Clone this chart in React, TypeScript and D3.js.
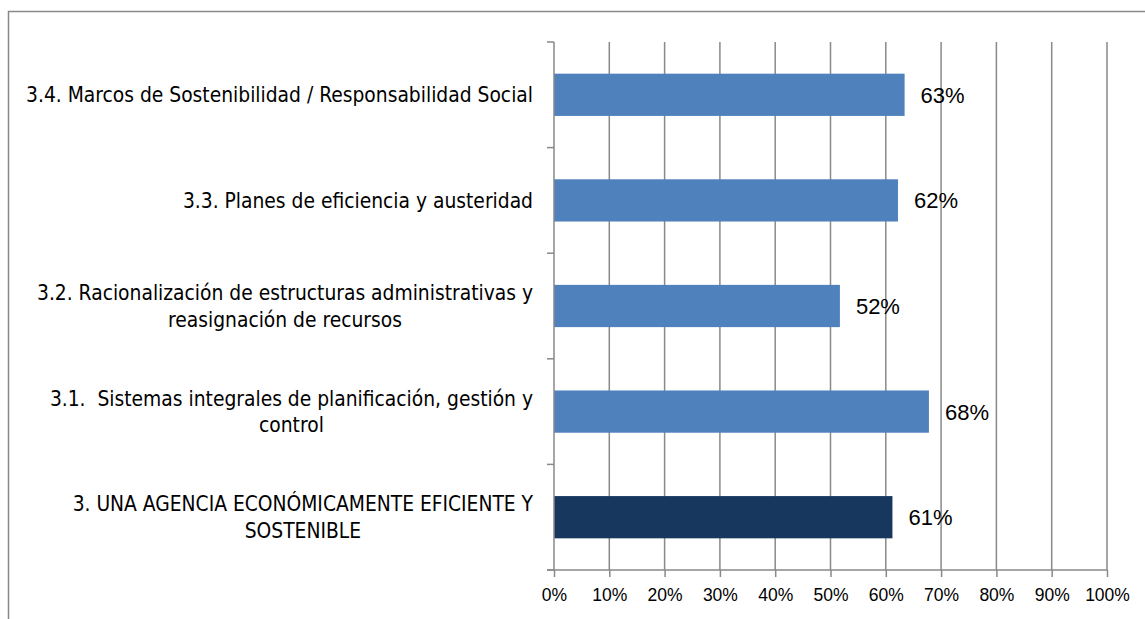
import React, { useEffect, useRef } from 'react';
import * as d3 from 'd3';

// categories top to bottom, each label split in lines
const categories = [
  ['3.4. Marcos de Sostenibilidad / Responsabilidad Social'],
  ['3.3. Planes de eficiencia y austeridad'],
  ['3.2. Racionalización de estructuras administrativas y', 'reasignación de recursos'],
  ['3.1.  Sistemas integrales de planificación, gestión y', 'control'],
  ['3. UNA AGENCIA ECONÓMICAMENTE EFICIENTE Y', 'SOSTENIBLE'],
];
const values = [0.634, 0.622, 0.517, 0.678, 0.612];
const barColors = ['#4F81BD', '#4F81BD', '#4F81BD', '#4F81BD', '#17375E'];
const xTicks = [0, 0.1, 0.2, 0.3, 0.4, 0.5, 0.6, 0.7, 0.8, 0.9, 1];

const W = 1145;
const H = 619;
const gridColor = '#898989';
const catFont = '"DejaVu Sans Condensed", "DejaVu Sans", sans-serif';
const numFont = '"Liberation Sans", Arial, sans-serif';

export default function App() {
  const ref = useRef<SVGSVGElement>(null);

  useEffect(() => {
    const svg = d3.select(ref.current);
    svg.selectAll('*').remove();

    const margin = { left: 554, right: 38, top: 42, bottom: 49 };
    const x = d3.scaleLinear().domain([0, 1]).range([margin.left, W - margin.right]);
    const idx = categories.map((_, i) => String(i));
    const y = d3.scaleBand().domain(idx).range([margin.top, H - margin.bottom])
      .paddingInner(0.6).paddingOuter(0.3);
    const band = d3.scaleBand().domain(idx).range([margin.top, H - margin.bottom]);

    // outer frame
    svg.append('rect')
      .attr('x', 8.5).attr('y', 11.5)
      .attr('width', W + 20).attr('height', H + 20)
      .attr('fill', 'none').attr('stroke', gridColor).attr('stroke-width', 1.5);

    // vertical gridlines
    svg.append('g').selectAll('line').data(xTicks.slice(1)).enter().append('line')
      .attr('x1', d => x(d)).attr('x2', d => x(d))
      .attr('y1', margin.top).attr('y2', H - margin.bottom)
      .attr('stroke', gridColor).attr('stroke-width', 1.5);

    // bars
    svg.append('g').selectAll('rect').data(values).enter().append('rect')
      .attr('x', x(0))
      .attr('y', (_, i) => y(String(i))!)
      .attr('width', d => x(d) - x(0))
      .attr('height', y.bandwidth())
      .attr('fill', (_, i) => barColors[i]);

    // value labels
    svg.append('g').selectAll('text').data(values).enter().append('text')
      .attr('x', d => x(d) + 16)
      .attr('y', (_, i) => y(String(i))! + y.bandwidth() / 2)
      .attr('dy', '0.36em')
      .attr('font-family', numFont).attr('font-size', 22)
      .attr('fill', '#000')
      .text(d => d3.format('.0%')(d));

    // y axis line + ticks at category boundaries
    const bounds = idx.map(k => band(k)!).concat([H - margin.bottom]);
    svg.append('line')
      .attr('x1', x(0)).attr('x2', x(0))
      .attr('y1', margin.top).attr('y2', H - margin.bottom)
      .attr('stroke', gridColor).attr('stroke-width', 1.5);
    svg.append('g').selectAll('line').data(bounds).enter().append('line')
      .attr('x1', x(0) - 7).attr('x2', x(0))
      .attr('y1', d => d).attr('y2', d => d)
      .attr('stroke', gridColor).attr('stroke-width', 1.5);

    // x axis
    const xAxis = d3.axisBottom(x).tickValues(xTicks).tickFormat(d3.format('.0%')).tickSize(7).tickSizeOuter(0);
    const ax = svg.append('g').attr('transform', `translate(0,${H - margin.bottom})`).call(xAxis);
    ax.select('.domain').attr('stroke', gridColor).attr('stroke-width', 1.5)
      .attr('d', `M${x(0) - 7},0H${x(1)}`);
    ax.selectAll('.tick line').attr('stroke', gridColor).attr('stroke-width', 1.5);
    ax.selectAll('.tick text')
      .attr('y', 19).attr('dy', '0.71em')
      .attr('font-family', numFont).attr('font-size', 17.5).attr('fill', '#000');

    // category labels: block centred, its widest line ending 21px left of the axis
    const right = x(0) - 21;
    const lineH = 26.5;
    categories.forEach((lines, i) => {
      const cy = band(String(i))! + band.bandwidth() / 2;
      const g = svg.append('g');
      const texts = lines.map((line, j) => g.append('text')
        .attr('y', cy + (j - (lines.length - 1) / 2) * lineH)
        .attr('dy', '0.36em')
        .attr('text-anchor', 'middle')
        .attr('font-family', catFont).attr('font-size', 20.8)
        .attr('fill', '#000')
        .style('white-space', 'pre')
        .text(line));
      const maxW = d3.max(texts, t => (t.node() as SVGTextElement).getComputedTextLength()) || 0;
      texts.forEach(t => t.attr('x', right - maxW / 2));
    });
  }, []);

  return (
    <svg ref={ref} width={W} height={H}
      style={{ position: 'absolute', left: 0, top: 0, background: '#fff', display: 'block' }} />
  );
}
